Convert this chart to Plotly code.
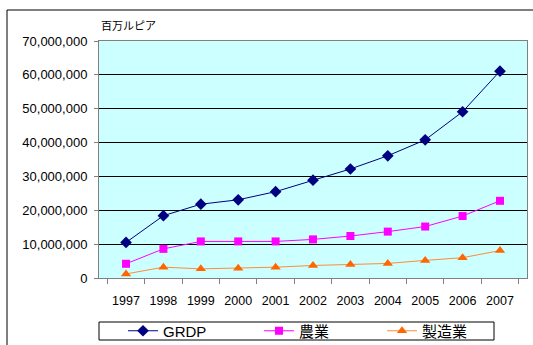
import plotly.graph_objects as go

years = ["1997", "1998", "1999", "2000", "2001", "2002", "2003", "2004", "2005", "2006", "2007"]
grdp = [10.5e6, 18.4e6, 21.8e6, 23.1e6, 25.5e6, 28.9e6, 32.2e6, 36.1e6, 40.8e6, 49.1e6, 61.1e6]
agri = [4.2e6, 8.6e6, 10.8e6, 10.8e6, 10.8e6, 11.4e6, 12.4e6, 13.7e6, 15.2e6, 18.3e6, 22.8e6]
manuf = [1.2e6, 3.2e6, 2.7e6, 2.9e6, 3.2e6, 3.7e6, 4.0e6, 4.3e6, 5.2e6, 6.0e6, 8.1e6]
names = ["GRDP", "農業", "製造業"]
yticks = [0, 10e6, 20e6, 30e6, 40e6, 50e6, 60e6, 70e6]
ytick_text = ["0", "10,000,000", "20,000,000", "30,000,000", "40,000,000", "50,000,000", "60,000,000", "70,000,000"]
unit_label = "百万ルピア"

W, H = 533, 345
L, R, T, B = 99, 6, 41, 67
pw, ph = W - L - R, H - T - B

def px(x):
    return (x - L) / pw

def py(y):
    return (H - B - y) / ph

FONT = "Liberation Sans, Arial, Noto Sans CJK JP, sans-serif"

fig = go.Figure()
fig.add_trace(go.Scatter(x=years, y=grdp, name=names[0], mode="lines+markers",
                         line=dict(color="#000080", width=1),
                         marker=dict(symbol="diamond", size=9, color="#000080"),
                         legend="legend", showlegend=True))
fig.add_trace(go.Scatter(x=years, y=agri, name=names[1], mode="lines+markers",
                         line=dict(color="#FF00FF", width=1),
                         marker=dict(symbol="square", size=8, color="#FF00FF"),
                         legend="legend2", showlegend=True))
fig.add_trace(go.Scatter(x=years, y=manuf, name=names[2], mode="lines+markers",
                         line=dict(color="#FF8C33", width=1),
                         marker=dict(symbol="triangle-up", size=9, color="#FF6600"),
                         legend="legend3", showlegend=True))

leg_common = dict(orientation="h", yanchor="middle", xanchor="left", y=py(331),
                  bgcolor="rgba(0,0,0,0)", borderwidth=0,
                  font=dict(family=FONT, size=15, color="#000000"))

fig.update_layout(
    width=W, height=H,
    margin=dict(l=L, r=R, t=T, b=B, autoexpand=False),
    showlegend=True,
    paper_bgcolor="#FFFFFF",
    plot_bgcolor="#CCFFFF",
    font=dict(family=FONT, size=13, color="#000000"),
    legend=dict(x=px(123), **leg_common),
    legend2=dict(x=px(259), **leg_common),
    legend3=dict(x=px(382), **leg_common),
    xaxis=dict(type="category", tickson="boundaries", ticks="outside", ticklen=5,
               tickcolor="#808080", showgrid=False, showline=True, linecolor="#808080",
               linewidth=1, mirror=True, ticklabelstandoff=11, tickangle=0,
               automargin=False, tickfont=dict(size=12.5)),
    yaxis=dict(range=[0, 70e6], tickvals=yticks, ticktext=ytick_text,
               ticks="outside", ticklen=4, tickcolor="#808080",
               showgrid=True, gridcolor="#000000", gridwidth=1,
               showline=True, linecolor="#808080", linewidth=1, mirror=True,
               zeroline=False, ticklabelstandoff=4, automargin=False,
               tickfont=dict(size=13)),
    shapes=[
        dict(type="rect", xref="paper", yref="paper",
             x0=px(7), x1=px(560), y0=py(10), y1=py(380),
             line=dict(color="#000000", width=1), fillcolor="rgba(0,0,0,0)", layer="below"),
        dict(type="rect", xref="paper", yref="paper",
             x0=px(99), x1=px(494), y0=py(322), y1=py(340),
             line=dict(color="#000000", width=1), fillcolor="rgba(0,0,0,0)"),
    ],
    annotations=[
        dict(text=unit_label, xref="paper", yref="paper", x=px(99), y=py(25),
             xanchor="left", yanchor="middle", showarrow=False,
             font=dict(family="Noto Sans CJK JP, sans-serif", size=11, color="#000000")),
    ],
)

fig.write_html("out.html")
